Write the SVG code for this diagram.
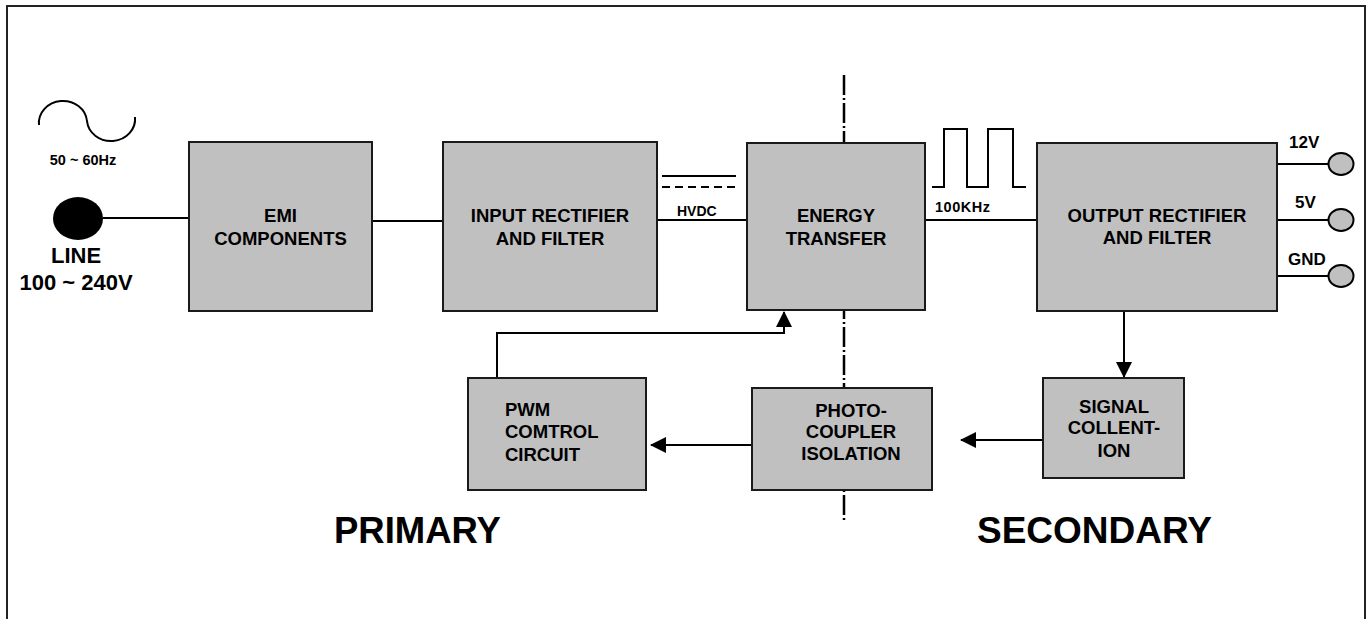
<svg xmlns="http://www.w3.org/2000/svg" width="1368" height="619" viewBox="0 0 1368 619">
<style>
.box{fill:#c0c0c0;stroke:#1a1a1a;stroke-width:2}
.ln{fill:none;stroke:#000;stroke-width:2}
.t{font-family:"Liberation Sans",Arial,sans-serif;font-weight:bold;fill:#000}
.m{font-size:18.5px;text-anchor:middle}
.o{font-size:17px}
.term{fill:#c0c0c0;stroke:#000;stroke-width:2}
</style>
<defs>
<marker id="ah" markerWidth="16" markerHeight="16" refX="15" refY="8" orient="auto" markerUnits="userSpaceOnUse">
<path d="M0,0 L16,8 L0,16 Z" fill="#000"/>
</marker>
</defs>
<rect x="0" y="0" width="1368" height="619" fill="#fff"/>
<path d="M7,619 V6 H1365 V619" fill="none" stroke="#222" stroke-width="2"/>
<g id="isolation-line">
<line x1="844" y1="75" x2="844" y2="522" stroke="#000" stroke-width="2.5" stroke-dasharray="20 3 2 3"/>
</g>
<g id="connectors">
<line class="ln" x1="103" y1="218" x2="189" y2="218"/>
<line class="ln" x1="372" y1="221" x2="443" y2="221"/>
<line class="ln" x1="657" y1="220" x2="747" y2="220"/>
<line class="ln" x1="925" y1="220" x2="1037" y2="220"/>
<line class="ln" x1="662" y1="176" x2="736" y2="176"/>
<line class="ln" x1="662" y1="187" x2="736" y2="187" stroke-dasharray="8 5"/>
<path class="ln" d="M932,187 H944 V129 H967 V187 H988 V129 H1013 V187 H1026"/>
<path class="ln" d="M39,125 A24,22 0 0 1 87,121 A24,22 0 0 0 135,117"/>
<line class="ln" x1="1277" y1="164" x2="1329" y2="164"/>
<line class="ln" x1="1277" y1="220" x2="1329" y2="220"/>
<line class="ln" x1="1277" y1="276" x2="1329" y2="276"/>
<path class="ln" d="M497,378 V333 H784 V312" marker-end="url(#ah)"/>
<line class="ln" x1="1124" y1="311" x2="1124" y2="377" marker-end="url(#ah)"/>
<line class="ln" x1="1043" y1="440" x2="961" y2="440" marker-end="url(#ah)"/>
<line class="ln" x1="752" y1="445" x2="651" y2="445" marker-end="url(#ah)"/>
</g>
<g id="line-input">
<ellipse cx="78" cy="218.5" rx="25" ry="21.5" fill="#000"/>
<text class="t" x="76" y="263" font-size="22" text-anchor="middle">LINE</text>
<text class="t" x="76" y="290" font-size="22" text-anchor="middle">100 ~ 240V</text>
<text class="t" x="83" y="165" font-size="14.5" text-anchor="middle">50 ~ 60Hz</text>
</g>
<g id="emi">
<rect class="box" x="189" y="142" width="183" height="169"/>
<text class="t m" x="280.5" y="222">EMI</text>
<text class="t m" x="280.5" y="245">COMPONENTS</text>
</g>
<g id="input-rectifier">
<rect class="box" x="443" y="142" width="214" height="169"/>
<text class="t m" x="550" y="222">INPUT RECTIFIER</text>
<text class="t m" x="550" y="245">AND FILTER</text>
</g>
<g id="hvdc">
<text class="t" x="677" y="216" font-size="14">HVDC</text>
</g>
<g id="energy-transfer">
<rect class="box" x="747" y="143" width="178" height="167"/>
<text class="t m" x="836" y="222">ENERGY</text>
<text class="t m" x="836" y="245">TRANSFER</text>
</g>
<g id="freq">
<text class="t" x="935" y="212" font-size="14.5" letter-spacing="0.5">100KHz</text>
</g>
<g id="output-rectifier">
<rect class="box" x="1037" y="143" width="240" height="168"/>
<text class="t m" x="1157" y="222">OUTPUT RECTIFIER</text>
<text class="t m" x="1157" y="244">AND FILTER</text>
</g>
<g id="out-12v">
<ellipse class="term" cx="1341" cy="164" rx="12.5" ry="11"/>
<text class="t o" x="1289" y="148">12V</text>
</g>
<g id="out-5v">
<ellipse class="term" cx="1341" cy="220" rx="12.5" ry="11"/>
<text class="t o" x="1295" y="208">5V</text>
</g>
<g id="out-gnd">
<ellipse class="term" cx="1341" cy="276" rx="12.5" ry="11"/>
<text class="t o" x="1288" y="265">GND</text>
</g>
<g id="pwm">
<rect class="box" x="468" y="378" width="178" height="112"/>
<text class="t" x="505" y="416" font-size="18.5">PWM</text>
<text class="t" x="505" y="438" font-size="18.5">COMTROL</text>
<text class="t" x="505" y="461" font-size="18.5">CIRCUIT</text>
</g>
<g id="photo-coupler">
<rect class="box" x="752" y="388" width="180" height="102"/>
<text class="t m" x="851" y="417">PHOTO-</text>
<text class="t m" x="851" y="438">COUPLER</text>
<text class="t m" x="851" y="460">ISOLATION</text>
</g>
<g id="signal">
<rect class="box" x="1043" y="378" width="141" height="100"/>
<text class="t m" x="1114" y="413">SIGNAL</text>
<text class="t m" x="1114" y="434">COLLENT-</text>
<text class="t m" x="1114" y="457">ION</text>
</g>
<g id="labels">
<text class="t" x="334" y="543" font-size="36.5">PRIMARY</text>
<text class="t" x="977" y="543" font-size="37">SECONDARY</text>
</g>
</svg>
